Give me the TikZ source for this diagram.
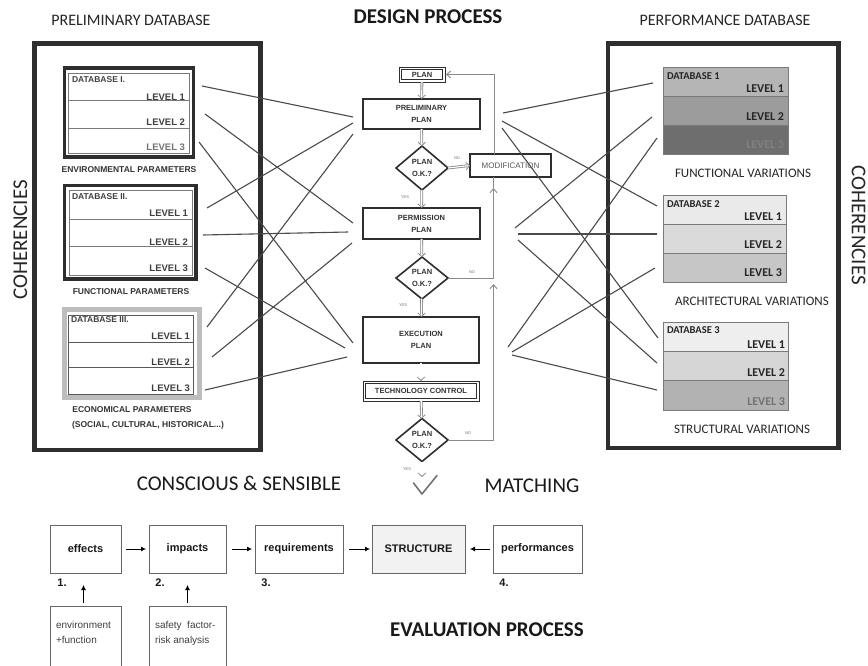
\documentclass[tikz,border=0pt]{standalone}
\usepackage{fontspec}
\setmainfont{Carlito}
\newfontfamily\arialf{Liberation Sans}
\usetikzlibrary{arrows.meta,shapes.geometric}

\definecolor{framec}{HTML}{2E2E2E}
\definecolor{linkc}{HTML}{4A4A4A}
\definecolor{rowline}{HTML}{7A7A7A}
\definecolor{ecoframe}{HTML}{BDBDBD}
\definecolor{fbc}{HTML}{8A8A8A}
\definecolor{dbAa}{HTML}{B5B5B5}
\definecolor{dbAb}{HTML}{9C9C9C}
\definecolor{dbAc}{HTML}{6E6E6E}
\definecolor{dbBa}{HTML}{EAEAEA}
\definecolor{dbBb}{HTML}{DADADA}
\definecolor{dbBc}{HTML}{C6C6C6}
\definecolor{dbCa}{HTML}{EEEEEE}
\definecolor{dbCb}{HTML}{D5D5D5}
\definecolor{dbCc}{HTML}{B2B2B2}

\begin{document}
\begin{tikzpicture}[x=1pt,y=-1pt,
  every node/.style={inner sep=0pt, outer sep=0pt},
  headline/.style={font=\fontsize{16}{19}\selectfont, text=black!85},
  bigtitle/.style={font=\bfseries\fontsize{21}{25}\selectfont, text=black!90},
  bigtext/.style={font=\fontsize{21}{25}\selectfont, text=black!90},
  cohtext/.style={font=\fontsize{21}{25}\selectfont, text=black!85},
  bigframe/.style={draw=framec, line width=4.8pt},
  dbouter/.style={draw=framec, line width=3.6pt},
  dbinner/.style={draw=rowline, line width=0.8pt},
  dblabel/.style={font=\arialf\bfseries\fontsize{8.5}{10}\selectfont, text=black!75},
  lvl/.style={font=\arialf\bfseries\fontsize{9.5}{11}\selectfont, text=black!75},
  param/.style={font=\arialf\bfseries\fontsize{8.5}{10}\selectfont, text=black!80},
  rdblabel/.style={font=\bfseries\fontsize{10.5}{12}\selectfont, text=black!85},
  rlvl/.style={font=\bfseries\fontsize{12}{14}\selectfont, text=black!85},
  rrow/.style={draw=rowline, line width=0.9pt},
  variation/.style={font=\fontsize{13}{15}\selectfont, text=black!85},
  link/.style={draw=linkc, line width=1.1pt},
  fbox/.style={draw=framec, line width=1.6pt, rectangle, align=center,
    font=\arialf\bfseries\fontsize{7.5}{12}\selectfont, text=black!80},
  fdbl/.style={draw=framec, line width=0.9pt, rectangle, align=center,
    font=\arialf\bfseries\fontsize{7.5}{12}\selectfont, text=black!80},
  innerline/.style={draw=framec, line width=0.9pt},
  decision/.style={draw=framec, line width=1.6pt, diamond, align=center,
    font=\arialf\bfseries\fontsize{7.5}{12}\selectfont, text=black!80},
  hollow/.style={draw=white, line width=1.1pt,
    -{Straight Barb[color=fbc, length=3.5pt, width=7.5pt, line width=0.8pt]},
    preaction={draw=fbc, line width=2.8pt, -, shorten >=2.5pt}},
  feedback/.style={draw=fbc, line width=0.9pt},
  fbtip/.style={feedback, -{Straight Barb[length=4pt,width=7pt]}},
  tiny/.style={font=\arialf\fontsize{4}{5}\selectfont, text=black!55},
  evbox/.style={draw=black!60, line width=1pt, rectangle, minimum height=48pt,
    font=\arialf\bfseries\fontsize{11}{13}\selectfont, text=black!90},
  evnum/.style={font=\arialf\bfseries\fontsize{11}{13}\selectfont, text=black!90},
  evarrow/.style={draw=black, line width=0.8pt, -{Latex[length=5pt,width=5pt]}},
  notetext/.style={font=\arialf\fontsize{10}{15}\selectfont, text=black!75, align=left}
]
\useasboundingbox (0,0) rectangle (868,666);
\fill[white] (0,0) rectangle (868,666);

% ---------- headings ----------
\node[headline] (tprelim) at (131,20) {PRELIMINARY DATABASE};
\node[bigtitle] (tdesign) at (428,17) {DESIGN PROCESS};
\node[headline] (tperf) at (725,20) {PERFORMANCE DATABASE};
\node[cohtext, rotate=90] (cohleft) at (20.5,240) {COHERENCIES};
\node[cohtext, rotate=-90] (cohright) at (858.5,225) {COHERENCIES};

% ---------- outer frames ----------
\draw[bigframe] (34.5,43.5) rectangle (260.5,450);
\draw[bigframe] (608,43.5) rectangle (838.5,448);

% ---------- preliminary database (left) ----------
% Database I
\draw[dbouter] (64.5,68) rectangle (193.5,157);
\draw[dbinner] (68.5,73) rectangle (189.5,153.5);
\draw[dbinner] (68.5,100) -- (189.5,100) (68.5,128) -- (189.5,128);
\node[dblabel, anchor=west] (dbIname) at (72,80) {DATABASE I.};
\node[lvl, anchor=east] (dbIa) at (185,97) {LEVEL 1};
\node[lvl, anchor=east] (dbIb) at (185,122) {LEVEL 2};
\node[lvl, anchor=east, text=black!55] (dbIc) at (185,147) {LEVEL 3};
\node[param] (envpar) at (129,170) {ENVIRONMENTAL PARAMETERS};

% Database II
\draw[dbouter] (64.5,185.5) rectangle (196,279);
\draw[dbinner] (69,190) rectangle (192,275.5);
\draw[dbinner] (69,219) -- (192,219) (69,246) -- (192,246);
\node[dblabel, anchor=west] (dbIIname) at (72,197) {DATABASE II.};
\node[lvl, anchor=east] (dbIIa) at (188,213) {LEVEL 1};
\node[lvl, anchor=east] (dbIIb) at (188,242) {LEVEL 2};
\node[lvl, anchor=east] (dbIIc) at (188,268) {LEVEL 3};
\node[param] (funpar) at (131,292) {FUNCTIONAL PARAMETERS};

% Database III
\draw[draw=ecoframe, line width=5pt] (64.5,309.5) rectangle (199.5,397.5);
\draw[draw=black!65, line width=0.9pt] (68.5,315) rectangle (193,394);
\draw[draw=black!65, line width=0.9pt] (68.5,342) -- (193,342) (68.5,367) -- (193,367);
\node[dblabel, anchor=west] (dbIIIname) at (71,320) {DATABASE III.};
\node[lvl, anchor=east] (dbIIIa) at (190,336) {LEVEL 1};
\node[lvl, anchor=east] (dbIIIb) at (190,362) {LEVEL 2};
\node[lvl, anchor=east] (dbIIIc) at (190,388) {LEVEL 3};
\node[param] (ecopar) at (132,410) {ECONOMICAL PARAMETERS};
\node[param] (ecosub) at (148,425) {(SOCIAL, CULTURAL, HISTORICAL...)};

% ---------- performance database (right) ----------
% Database 1
\filldraw[rrow, fill=dbAa] (663,67) rectangle (788,96);
\filldraw[rrow, fill=dbAb] (663,96) rectangle (788,125);
\filldraw[rrow, fill=dbAc] (663,125) rectangle (788,154);
\node[rdblabel, anchor=west] (db1name) at (667,76) {DATABASE 1};
\node[rlvl, anchor=east] (db1a) at (784,89) {LEVEL 1};
\node[rlvl, anchor=east] (db1b) at (784,117) {LEVEL 2};
\node[rlvl, anchor=east, text=black!50] (db1c) at (784,145) {LEVEL 3};
\node[variation] (funvar) at (743,173) {FUNCTIONAL VARIATIONS};

% Database 2
\filldraw[rrow, fill=dbBa] (663,195) rectangle (786,224);
\filldraw[rrow, fill=dbBb] (663,224) rectangle (786,253);
\filldraw[rrow, fill=dbBc] (663,253) rectangle (786,282);
\node[rdblabel, anchor=west] (db2name) at (667,204) {DATABASE 2};
\node[rlvl, anchor=east] (db2a) at (782,217) {LEVEL 1};
\node[rlvl, anchor=east] (db2b) at (782,245) {LEVEL 2};
\node[rlvl, anchor=east] (db2c) at (782,273) {LEVEL 3};
\node[variation] (arcvar) at (752,301) {ARCHITECTURAL VARIATIONS};

% Database 3
\filldraw[rrow, fill=dbCa] (663,322) rectangle (788,351);
\filldraw[rrow, fill=dbCb] (663,351) rectangle (788,380);
\filldraw[rrow, fill=dbCc] (663,380) rectangle (788,410);
\node[rdblabel, anchor=west] (db3name) at (667,330) {DATABASE 3};
\node[rlvl, anchor=east] (db3a) at (785,345) {LEVEL 1};
\node[rlvl, anchor=east] (db3b) at (785,373) {LEVEL 2};
\node[rlvl, anchor=east, text=black!55] (db3c) at (785,402) {LEVEL 3};
\node[variation] (strvar) at (742,429) {STRUCTURAL VARIATIONS};

% ---------- design process flowchart ----------
\node[fdbl, minimum width=46pt, minimum height=15pt] (plan) at (422,74.5) {PLAN};
\draw[innerline] ([shift={(2.2,2.2)}]plan.north west) rectangle ([shift={(-2.2,-2.2)}]plan.south east);
\node[fbox, minimum width=117pt, minimum height=30pt] (prelim) at (421.5,114) {PRELIMINARY\\PLAN};
\node[decision, minimum width=52pt, minimum height=44pt] (dec1) at (422,168) {PLAN\\O.K.?};
\node[fbox, minimum width=81pt, minimum height=23pt, font=\arialf\fontsize{8}{10}\selectfont, text=black!65] (modif) at (510.5,165.5) {MODIFICATION};
\node[fbox, minimum width=117pt, minimum height=31pt] (permit) at (421.5,223.5) {PERMISSION\\PLAN};
\node[decision, minimum width=52pt, minimum height=42pt] (dec2) at (422,278) {PLAN\\O.K.?};
\node[fbox, minimum width=116pt, minimum height=46pt] (execp) at (421,340) {EXECUTION\\PLAN};
\node[fdbl, minimum width=116pt, minimum height=20pt] (techc) at (421,391) {TECHNOLOGY CONTROL};
\draw[innerline] ([shift={(2.2,2.2)}]techc.north west) rectangle ([shift={(-2.2,-2.2)}]techc.south east);
\node[decision, minimum width=52pt, minimum height=43pt] (dec3) at (422,440) {PLAN\\O.K.?};
\coordinate (okpoint) at (422,477);

\draw[hollow] (plan) -- (prelim);
\draw[hollow] (prelim) -- (dec1);
\draw[hollow] (dec1) -- (permit);
\draw[hollow] (permit) -- (dec2);
\draw[hollow] (dec2) -- (execp);
\draw[hollow] (execp) -- (techc);
\draw[hollow] (techc) -- (dec3);
\draw[hollow] (dec3.south) -- (okpoint);
\draw[hollow] (dec1.east) -- (modif.west);

% feedback loop
\coordinate (fbtop) at (494,74.5);
\coordinate (fbA) at (493.5,278);
\coordinate (fbB) at (493.5,440);
\coordinate (tipA) at (493.5,188);
\coordinate (tipB) at (493.5,284);
\draw[feedback] (modif.north -| fbtop) -- (fbtop);
\draw[fbtip] (fbtop) -- ([xshift=1pt]plan.east);
\draw[feedback] (dec3.east) -- (fbB);
\draw[fbtip] (fbB) -- (tipB);
\draw[feedback] (dec2.east) -- (fbA);
\draw[fbtip] (fbA) -- (tipA);
\draw[feedback] (tipA) -- (modif.south -| tipA);

\node[tiny] (no1) at (457,158) {NO};
\node[tiny] (yes1) at (405,197) {YES};
\node[tiny] (no2) at (472,272) {NO};
\node[tiny] (yes2) at (403,305) {YES};
\node[tiny] (no3) at (468,433) {NO};
\node[tiny] (yes3) at (407,469) {YES};

% check mark
\draw[draw=black!55, line width=1.6pt, line cap=round, line join=round]
  (413.5,483) -- (422,494) -- (437,475.5);

% ---------- links from the preliminary database ----------
\coordinate (sIa) at (202,86);    \coordinate (ppA) at (353,117);
\coordinate (sIb) at (205,114);   \coordinate (pmA) at (353,223);
\coordinate (sIc) at (199,142);   \coordinate (exA) at (353,343);
\coordinate (sIIa) at (207,208);  \coordinate (ppB) at (353,123);
\coordinate (sIIb) at (203,235);  \coordinate (pmB) at (348,232);
\coordinate (sIIc) at (205,268);  \coordinate (exB) at (345,348);
\coordinate (sIIIa) at (207,327); \coordinate (ppC) at (353,134);
\coordinate (sIIIb) at (212,357); \coordinate (pmC) at (352,243);
\coordinate (sIIIc) at (205,390); \coordinate (exC) at (347,357);
\draw[link] (sIa) -- (ppA);
\draw[link] (sIb) -- (pmA);
\draw[link] (sIc) -- (exA);
\draw[link] (sIIa) -- (ppB);
\draw[link] (sIIb) -- (pmB);
\draw[link] (sIIc) -- (exB);
\draw[link] (sIIIa) -- (ppC);
\draw[link] (sIIIb) -- (pmC);
\draw[link] (sIIIc) -- (exC);

% ---------- links to the performance database ----------
\coordinate (ppR1) at (503,113); \coordinate (t1a) at (653,83);
\coordinate (ppR2) at (502,121); \coordinate (t2a) at (657,206);
\coordinate (ppR3) at (502,128); \coordinate (t3a) at (658,338);
\coordinate (pmR1) at (515,228); \coordinate (t1b) at (652,117);
\coordinate (pmR2) at (518,234); \coordinate (t2b) at (657,234);
\coordinate (pmR3) at (518,240); \coordinate (t3b) at (657,363);
\coordinate (exR1) at (508,347); \coordinate (t1c) at (657,138);
\coordinate (exR2) at (512,352); \coordinate (t2c) at (655,268);
\coordinate (exR3) at (512,355); \coordinate (t3c) at (657,390);
\draw[link] (ppR1) -- (t1a);
\draw[link] (ppR2) -- (t2a);
\draw[link] (ppR3) -- (t3a);
\draw[link] (pmR1) -- (t1b);
\draw[link] (pmR2) -- (t2b);
\draw[link] (pmR3) -- (t3b);
\draw[link] (exR1) -- (t1c);
\draw[link] (exR2) -- (t2c);
\draw[link] (exR3) -- (t3c);

% ---------- evaluation process ----------
\node[bigtext] (conscious) at (239,483) {CONSCIOUS \& SENSIBLE};
\node[bigtext] (matching) at (532,486) {MATCHING};

\node[evbox, minimum width=71pt] (effects) at (85.5,549) {effects};
\node[evbox, minimum width=77pt] (impacts) at (187.5,549) {impacts};
\node[evbox, minimum width=88pt] (requir) at (299,549) {requirements};
\node[evbox, minimum width=93pt, fill=black!5] (struct) at (418.5,549) {STRUCTURE};
\node[evbox, minimum width=89pt] (perform) at (537.5,549) {performances};

\draw[evarrow, shorten <=5pt, shorten >=3pt] (effects) -- (impacts);
\draw[evarrow, shorten <=6pt, shorten >=3pt] (impacts) -- (requir);
\draw[evarrow, shorten <=6pt, shorten >=2pt] (requir) -- (struct);
\draw[evarrow, shorten <=3pt, shorten >=5pt] (perform) -- (struct);

\node[evnum] (n1) at (62,583) {1.};
\node[evnum] (n2) at (160,583) {2.};
\node[evnum] (n3) at (266,583) {3.};
\node[evnum] (n4) at (504,583) {4.};

\node[draw=black!60, line width=1pt, minimum width=71pt, minimum height=80pt, anchor=north] (envbox) at (85.5,606) {};
\node[draw=black!60, line width=1pt, minimum width=77pt, minimum height=80pt, anchor=north] (safbox) at (187.5,606) {};
\node[notetext, anchor=north west] (envtxt) at (56,621) {environment\\+function};
\node[notetext, anchor=north west] (saftxt) at (155,621) {safety\ \ factor-\\risk analysis};

\draw[evarrow, shorten <=3pt, shorten >=12pt] ([xshift=-2pt]envbox.north) -- ([xshift=-2pt]effects.south);
\draw[evarrow, shorten <=3pt, shorten >=12pt] (safbox.north) -- (impacts.south);

\node[bigtitle] (evalp) at (487,630) {EVALUATION PROCESS};
\end{tikzpicture}
\end{document}
